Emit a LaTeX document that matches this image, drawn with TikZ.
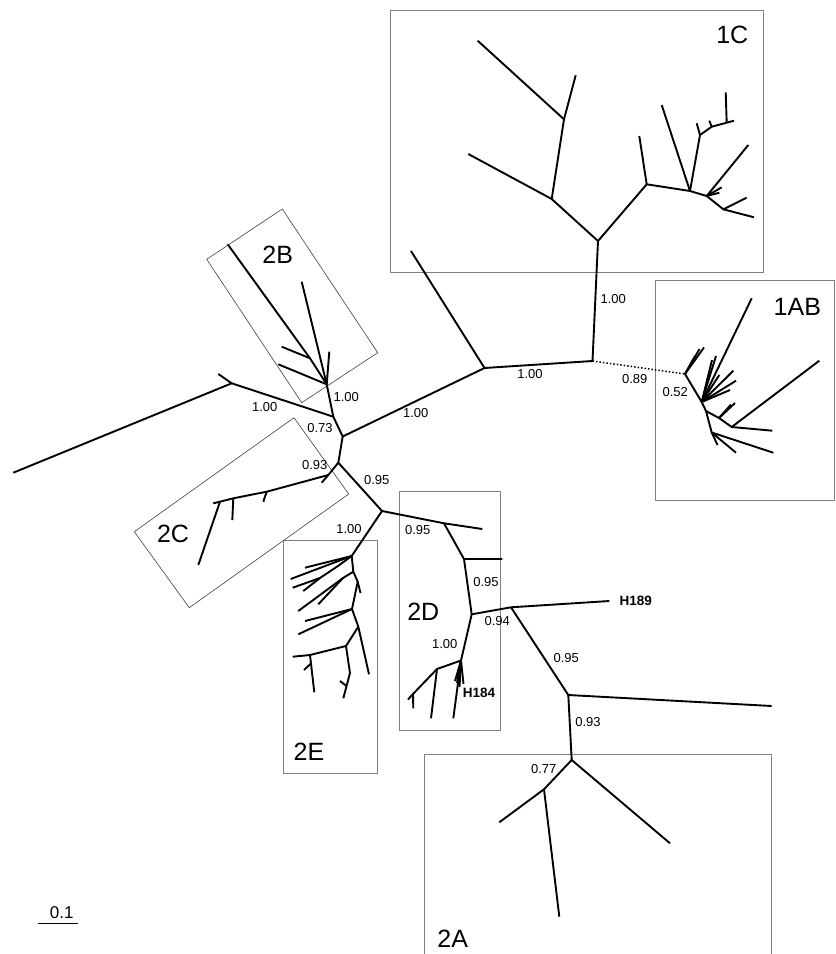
\documentclass[tikz,border=0pt]{standalone}
\usepackage{fontspec}
\setmainfont{Liberation Sans}
\begin{document}
\begin{tikzpicture}[x=1pt,y=-1pt,
  br/.style={line width=1.9pt, line join=round},
  box/.style={draw=black!50, line width=0.9pt},
  thinbox/.style={draw=black!75, line width=0.6pt},
  suplab/.style={font=\fontsize{13}{13}\selectfont, inner sep=0pt},
  cladelab/.style={font=\fontsize{25}{25}\selectfont, inner sep=0pt},
  leaftag/.style={font=\bfseries\fontsize{13.5}{13.5}\selectfont, inner sep=0pt}]
\useasboundingbox (0,0) rectangle (836,954);

% ---------- boxes ----------
\draw[box] (390,10) rectangle (763,272);
\draw[box] (655,280) rectangle (834,500);
\draw[box] (399.3,491.7) rectangle (500,730);
\draw[box] (283.3,540) rectangle (377.3,773.3);
\draw[box] (424.3,954) -- (424.3,754.3) -- (771,754.3) -- (771,954);
\draw[thinbox] (206.7,259.3) -- (282.3,209) -- (377.7,352.7) -- (301.7,402.7) -- cycle;
\draw[thinbox] (134.3,531.7) -- (294,417.7) -- (348.7,494) -- (189.3,607.7) -- cycle;

% ---------- backbone coordinates ----------
\coordinate (N592) at (592.5,361);
\coordinate (R1C) at (598,241);
\coordinate (N1) at (484.5,368);
\coordinate (L1) at (411,251);
\coordinate (N2) at (342.7,436.5);
\coordinate (N3) at (333.3,416.7);
\coordinate (Lx) at (231.7,383.3);
\coordinate (Lx1) at (13.3,472.7);
\coordinate (Lx2) at (218.3,374);
\coordinate (N4) at (338.3,462.7);
\coordinate (N5) at (382,511);
\coordinate (N6) at (444,523.3);
\coordinate (N6a) at (482.3,529);
\coordinate (N7) at (464,559);
\coordinate (N7a) at (502.3,559);
\coordinate (N8) at (471.7,614.3);
\coordinate (N9) at (511,607.3);
\coordinate (H189) at (609.3,601);
\coordinate (N10) at (568.3,695);
\coordinate (N10a) at (771.7,706);
\coordinate (N11) at (571.7,760);
\coordinate (N11a) at (670,843.3);
\coordinate (N12) at (544,789.3);
\coordinate (N12a) at (499.3,822.3);
\coordinate (N12b) at (559.3,916.7);

\draw[br] (R1C) -- (N592) -- (N1) -- (L1);
\draw[br] (N1) -- (N2) -- (N3) -- (Lx) -- (Lx1);
\draw[br] (Lx) -- (Lx2);
\draw[br] (N2) -- (N4) -- (N5) -- (N6) -- (N6a);
\draw[br] (N6) -- (N7) -- (N7a);
\draw[br] (N7) -- (N8) -- (N9) -- (H189);
\draw[br] (N9) -- (N10) -- (N10a);
\draw[br] (N10) -- (N11) -- (N11a);
\draw[br] (N11) -- (N12) -- (N12a);
\draw[br] (N12) -- (N12b);

% ---------- 1C ----------
\coordinate (A) at (551.7,199);   \coordinate (Aa) at (468.3,154);
\coordinate (B) at (564,119.3);   \coordinate (Ba) at (477.7,40.7); \coordinate (Bb) at (575.7,75.3);
\coordinate (C) at (646.7,184.3); \coordinate (Ca) at (639.3,136);
\coordinate (D) at (690,191);     \coordinate (Da) at (661.7,105);
\coordinate (E) at (700,135);     \coordinate (Ea) at (696.7,123.3);
\coordinate (F) at (711.7,126.7); \coordinate (Fa) at (709.3,120.7);
\coordinate (G) at (726.7,122.7); \coordinate (Ga) at (734,120.7); \coordinate (Gb) at (725.7,92.3);
\coordinate (H) at (706.7,196);   \coordinate (Ha) at (748.3,145);
\coordinate (Hb) at (721.7,187.3); \coordinate (Hc) at (719.3,192.7);
\coordinate (I) at (723.3,209.3); \coordinate (Ia) at (746.7,197.7); \coordinate (Ib) at (754,217.3);
\draw[br] (R1C) -- (A) -- (Aa);
\draw[br] (A) -- (B) -- (Ba);
\draw[br] (B) -- (Bb);
\draw[br] (R1C) -- (C) -- (Ca);
\draw[br] (C) -- (D) -- (Da);
\draw[br] (D) -- (E) -- (Ea);
\draw[br] (E) -- (F) -- (Fa);
\draw[br] (F) -- (G) -- (Ga);
\draw[br] (G) -- (Gb);
\draw[br] (D) -- (H) -- (Ha);
\draw[br] (H) -- (Hb);
\draw[br] (H) -- (Hc);
\draw[br] (H) -- (I) -- (Ia);
\draw[br] (I) -- (Ib);

% ---------- 1AB ----------
\coordinate (A0) at (685,374);
\coordinate (A0a) at (704,347.5); \coordinate (A0b) at (699.5,349); \coordinate (A0c) at (695,356);
\coordinate (A1) at (701.7,402);
\coordinate (A1a) at (751.7,298.3); \coordinate (A1b) at (716,356); \coordinate (A1c) at (719.3,375);
\coordinate (A1d) at (733.3,370.7); \coordinate (A1e) at (736,380.7); \coordinate (A1f) at (730,390);
\coordinate (A1g) at (712,360);
\coordinate (A2) at (706,411);
\coordinate (A2b) at (719,418);
\coordinate (A2c) at (735,403); \coordinate (A2d) at (731,404.5); \coordinate (A2e) at (728,409);
\coordinate (A3) at (731.7,427); \coordinate (A3a) at (819.3,360.7); \coordinate (A3b) at (772.3,430.7);
\coordinate (A4) at (711.7,432.5); \coordinate (A4a) at (773.3,452.7); \coordinate (A4b) at (736,452.7);
\coordinate (A4c) at (717.5,445);
\draw[line width=1.5pt, dotted] (N592) -- (A0);
\draw[br] (A0) -- (A0a);
\draw[br] (A0) -- (A0b);
\draw[br] (A0) -- (A0c);
\draw[br] (A0) -- (A1) -- (A1a);
\draw[br] (A1) -- (A1b);
\draw[br] (A1) -- (A1c);
\draw[br] (A1) -- (A1d);
\draw[br] (A1) -- (A1e);
\draw[br] (A1) -- (A1f);
\draw[br] (A1) -- (A1g);
\draw[br] (A1) -- (A2) -- (A2b) -- (A3) -- (A3a);
\draw[br] (A3) -- (A3b);
\draw[br] (A2b) -- (A2c);
\draw[br] (A2b) -- (A2d);
\draw[br] (A2b) -- (A2e);
\draw[br] (A2) -- (A4) -- (A4a);
\draw[br] (A4) -- (A4b);
\draw[br] (A4) -- (A4c);

% ---------- 2B ----------
\coordinate (B0) at (326.7,384.3);
\coordinate (Bl) at (227.7,244.3);
\coordinate (Bn) at (310,358.3); \coordinate (Bna) at (281.7,346.7);
\coordinate (Bb0) at (278.3,364.3);
\coordinate (Bc) at (301.7,281.7);
\coordinate (Bd) at (329.3,351.7);
\draw[br] (N3) -- (B0) -- (Bn) -- (Bl);
\draw[br] (Bn) -- (Bna);
\draw[br] (B0) -- (Bb0);
\draw[br] (B0) -- (Bc);
\draw[br] (B0) -- (Bd);

% ---------- 2C ----------
\coordinate (C0) at (328.3,475);
\coordinate (C0a) at (321.7,482.7);
\coordinate (Ct1) at (266.7,491.7); \coordinate (Ct1e) at (263.3,501.7);
\coordinate (Ct2) at (233.3,498.3); \coordinate (Ct2e) at (232.3,520);
\coordinate (C1) at (220,501.7); \coordinate (C1a) at (213.3,503.3); \coordinate (C1b) at (198.3,565);
\draw[br] (N4) -- (C0) -- (C0a);
\draw[br] (C0) -- (Ct1) -- (Ct2) -- (C1) -- (C1a);
\draw[br] (C1) -- (C1b);
\draw[br] (Ct1) -- (Ct1e);
\draw[br] (Ct2) -- (Ct2e);

% ---------- 2D ----------
\coordinate (D1) at (461,660.5);
\coordinate (D2) at (437,669);  \coordinate (D2a) at (431,718.3);
\coordinate (D3) at (413,694);  \coordinate (D3a) at (408,699.5); \coordinate (D3b) at (413.3,708.3);
\coordinate (D1a) at (453.3,718.3); \coordinate (D1b) at (455,681); \coordinate (D1c) at (463.5,684);
\coordinate (D1d) at (459.5,687); \coordinate (D1e) at (457,683);
\draw[br] (N8) -- (D1) -- (D2) -- (D2a);
\draw[br] (D2) -- (D3) -- (D3a);
\draw[br] (D3) -- (D3b);
\draw[br] (D1) -- (D1a);
\draw[br] (D1) -- (D1b);
\draw[br] (D1) -- (D1c);
\draw[br] (D1) -- (D1d);
\draw[br] (D1) -- (D1e);

% ---------- 2E ----------
\coordinate (E0) at (351.7,556);
\coordinate (Ep1) at (290.7,579); \coordinate (Ep2) at (305,567.7);
\coordinate (Eq) at (338,566);  \coordinate (Eq1) at (292.7,587.7);
\coordinate (Eq2) at (320,578); \coordinate (Eq3) at (303.3,591);
\coordinate (Er) at (343,578);  \coordinate (Er1) at (298.3,611); \coordinate (Er2) at (318.3,604.3);
\coordinate (E1) at (353.3,571.7); \coordinate (E1b) at (357.7,581.7); \coordinate (E1c) at (360.5,593);
\coordinate (E2) at (352,609); \coordinate (E2a) at (305,621); \coordinate (E2b) at (298.3,634.3);
\coordinate (E3) at (358.3,626.7); \coordinate (E3a) at (369,674.3);
\coordinate (E4) at (346,646);
\coordinate (E5) at (310,655); \coordinate (E5a) at (292.7,656.7); \coordinate (E5b) at (314.3,692.3);
\coordinate (E5c) at (311.5,663); \coordinate (E5d) at (304,670);
\coordinate (E6) at (350,673); \coordinate (E6a) at (343.3,698.3);
\coordinate (E6b) at (346.5,686); \coordinate (E6c) at (340,681);
\draw[br] (N5) -- (E0) -- (Ep1);
\draw[br] (E0) -- (Ep2);
\draw[br] (E0) -- (Eq) -- (Eq2) -- (Eq1);
\draw[br] (Eq2) -- (Eq3);
\draw[br] (E1) -- (Er) -- (Er1);
\draw[br] (Er) -- (Er2);
\draw[br] (E0) -- (E1) -- (E1b) -- (E1c);
\draw[br] (E1b) -- (E2) -- (E2a);
\draw[br] (E2) -- (E2b);
\draw[br] (E2) -- (E3) -- (E3a);
\draw[br] (E3) -- (E4) -- (E5) -- (E5a);
\draw[br] (E5) -- (E5b);
\draw[br] (E5c) -- (E5d);
\draw[br] (E4) -- (E6) -- (E6a);
\draw[br] (E6b) -- (E6c);

% ---------- support labels ----------
\node[suplab] (s1) at (613.3,299.3) {1.00};
\node[suplab] (s2) at (530,374) {1.00};
\node[suplab] (s3) at (634.7,378.7) {0.89};
\node[suplab] (s4) at (675.3,392) {0.52};
\node[suplab] (s5) at (415.7,412.7) {1.00};
\node[suplab] (s6) at (346.3,397) {1.00};
\node[suplab] (s7) at (264.7,407) {1.00};
\node[suplab] (s8) at (320,428) {0.73};
\node[suplab] (s9) at (314.7,465.3) {0.93};
\node[suplab] (s10) at (376.7,480) {0.95};
\node[suplab] (s11) at (349,529) {1.00};
\node[suplab] (s12) at (417.7,530.3) {0.95};
\node[suplab] (s13) at (486,581.7) {0.95};
\node[suplab] (s14) at (497.3,621.3) {0.94};
\node[suplab] (s15) at (444.7,644.3) {1.00};
\node[suplab] (s16) at (566.3,657.7) {0.95};
\node[suplab] (s17) at (588,721.7) {0.93};
\node[suplab] (s18) at (543.7,769) {0.77};
\node[leaftag] (t1) at (479,693.3) {H184};
\node[leaftag] (t2) at (635.7,601) {H189};

% ---------- clade labels ----------
\node[cladelab] (c1) at (732.3,35) {1C};
\node[cladelab] (c2) at (797.3,307.3) {1AB};
\node[cladelab] (c3) at (277.7,255) {2B};
\node[cladelab] (c4) at (173,534) {2C};
\node[cladelab] (c5) at (423.3,611.7) {2D};
\node[cladelab] (c6) at (309,751.7) {2E};
\node[cladelab] (c7) at (452.7,938.7) {2A};

% ---------- scale bar ----------
\coordinate (sb1) at (37.7,923.3);
\coordinate (sb2) at (77.7,923.3);
\draw[line width=1.2pt] (sb1) -- (sb2);
\node[font=\fontsize{17}{17}\selectfont, inner sep=0pt] (sbl) at (61.7,913) {0.1};
\end{tikzpicture}
\end{document}
